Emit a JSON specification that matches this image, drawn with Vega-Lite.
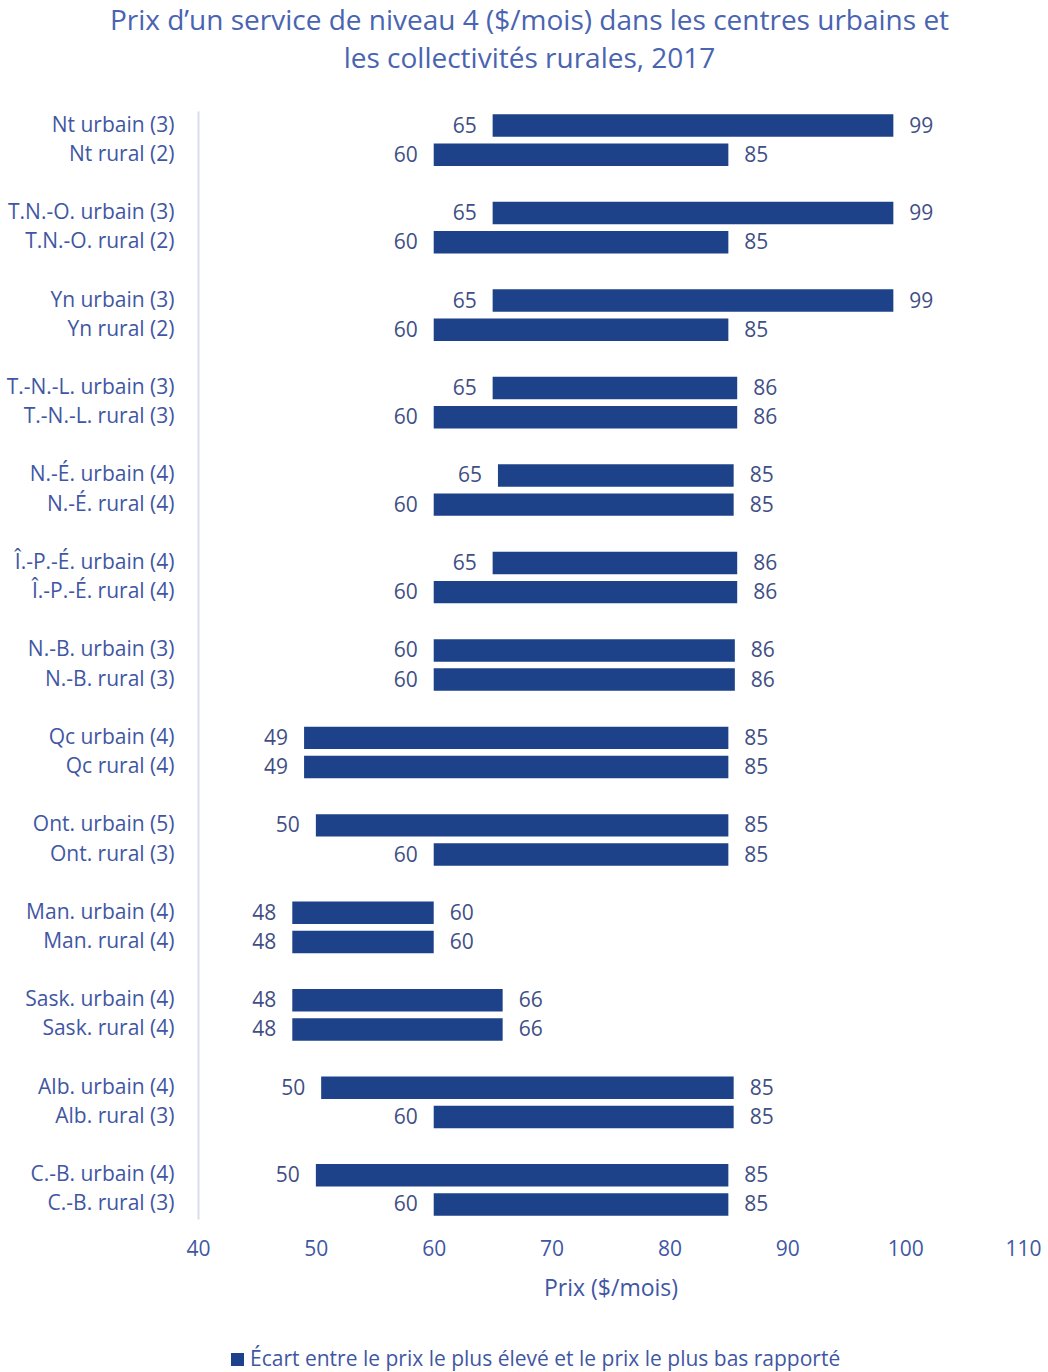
{
  "$schema": "https://vega.github.io/schema/vega-lite/v6.json",
  "autosize": {"type": "none"},
  "padding": {"left": 198, "top": 111, "right": 25, "bottom": 153},
  "width": 825,
  "height": 1108,
  "background": "white",
  "title": {
    "text": ["Prix d’un service de niveau 4 ($/mois) dans les centres urbains et", "les collectivités rurales, 2017"],
    "anchor": "middle",
    "dx": -81,
    "fontSize": 28,
    "font": "Open Sans",
    "fontWeight": "normal",
    "color": "#4964B0",
    "lineHeight": 38,
    "baseline": "alphabetic",
    "offset": 15
  },
  "config": {
    "view": {"stroke": null},
    "font": "Open Sans"
  },
  "data": {
    "values": [
      {"label": "Nt urbain (3)", "low": 65, "high": 99},
      {"label": "Nt rural (2)", "low": 60, "high": 85},
      {"label": "T.N.-O. urbain (3)", "low": 65, "high": 99},
      {"label": "T.N.-O. rural (2)", "low": 60, "high": 85},
      {"label": "Yn urbain (3)", "low": 65, "high": 99},
      {"label": "Yn rural (2)", "low": 60, "high": 85},
      {"label": "T.-N.-L. urbain (3)", "low": 65, "high": 85.75},
      {"label": "T.-N.-L. rural (3)", "low": 60, "high": 85.75},
      {"label": "N.-É. urbain (4)", "low": 65.45, "high": 85.45},
      {"label": "N.-É. rural (4)", "low": 60, "high": 85.45},
      {"label": "Î.-P.-É. urbain (4)", "low": 65, "high": 85.75},
      {"label": "Î.-P.-É. rural (4)", "low": 60, "high": 85.75},
      {"label": "N.-B. urbain (3)", "low": 60, "high": 85.55},
      {"label": "N.-B. rural (3)", "low": 60, "high": 85.55},
      {"label": "Qc urbain (4)", "low": 49, "high": 85},
      {"label": "Qc rural (4)", "low": 49, "high": 85},
      {"label": "Ont. urbain (5)", "low": 50, "high": 85},
      {"label": "Ont. rural (3)", "low": 60, "high": 85},
      {"label": "Man. urbain (4)", "low": 48, "high": 60},
      {"label": "Man. rural (4)", "low": 48, "high": 60},
      {"label": "Sask. urbain (4)", "low": 48, "high": 65.85},
      {"label": "Sask. rural (4)", "low": 48, "high": 65.85},
      {"label": "Alb. urbain (4)", "low": 50.45, "high": 85.45},
      {"label": "Alb. rural (3)", "low": 60, "high": 85.45},
      {"label": "C.-B. urbain (4)", "low": 50, "high": 85},
      {"label": "C.-B. rural (3)", "low": 60, "high": 85}
    ]
  },
  "encoding": {
    "y": {
      "field": "label",
      "type": "nominal",
      "sort": null,
      "scale": {
        "domain": [
          "Nt urbain (3)", "Nt rural (2)", "_gap1",
          "T.N.-O. urbain (3)", "T.N.-O. rural (2)", "_gap2",
          "Yn urbain (3)", "Yn rural (2)", "_gap3",
          "T.-N.-L. urbain (3)", "T.-N.-L. rural (3)", "_gap4",
          "N.-É. urbain (4)", "N.-É. rural (4)", "_gap5",
          "Î.-P.-É. urbain (4)", "Î.-P.-É. rural (4)", "_gap6",
          "N.-B. urbain (3)", "N.-B. rural (3)", "_gap7",
          "Qc urbain (4)", "Qc rural (4)", "_gap8",
          "Ont. urbain (5)", "Ont. rural (3)", "_gap9",
          "Man. urbain (4)", "Man. rural (4)", "_gap10",
          "Sask. urbain (4)", "Sask. rural (4)", "_gap11",
          "Alb. urbain (4)", "Alb. rural (3)", "_gap12",
          "C.-B. urbain (4)", "C.-B. rural (3)"
        ],
        "paddingInner": 0.23,
        "paddingOuter": 0.115
      },
      "axis": {
        "title": null,
        "labelExpr": "indexof(datum.label, '_gap') === 0 ? '' : datum.label",
        "labelFontSize": 21,
        "labelColor": "#3F57A3",
        "labelPadding": 24,
        "ticks": false,
        "tickSize": 0,
        "domain": true,
        "domainColor": "#D9DCEB",
        "domainWidth": 2,
        "grid": false
      }
    }
  },
  "layer": [
    {
      "mark": {"type": "bar"},
      "encoding": {
        "x": {
          "field": "low",
          "type": "quantitative",
          "scale": {"domain": [40, 110], "nice": false, "zero": false},
          "axis": {
            "title": "Prix ($/mois)",
            "titleFontSize": 23,
            "titleFontWeight": "normal",
            "titleColor": "#3F57A3",
            "titlePadding": 18,
            "values": [40, 50, 60, 70, 80, 90, 100, 110],
            "labelFontSize": 21,
            "labelColor": "#3F57A3",
            "labelBaseline": "middle",
            "labelPadding": 30,
            "labelFlush": false,
            "labelOverlap": false,
            "ticks": false,
            "tickSize": 0,
            "domain": false,
            "grid": false
          }
        },
        "x2": {"field": "high"},
        "color": {
          "datum": "Écart entre le prix le plus élevé et le prix le plus bas rapporté",
          "type": "nominal",
          "scale": {"range": ["#1D4289"]},
          "legend": {
            "title": null,
            "orient": "none",
            "legendX": 29,
            "legendY": 1238,
            "symbolType": "square",
            "symbolSize": 169,
            "symbolStrokeWidth": 0,
            "labelFontSize": 21,
            "labelColor": "#3F57A3",
            "labelOffset": 2,
            "labelLimit": 800
          }
        }
      }
    },
    {
      "mark": {"type": "text", "align": "right", "baseline": "middle", "dx": -16, "dy": 1, "fontSize": 21, "color": "#3F4F85"},
      "encoding": {
        "x": {"field": "low", "type": "quantitative"},
        "text": {"field": "low", "type": "quantitative", "format": ".0f"}
      }
    },
    {
      "mark": {"type": "text", "align": "left", "baseline": "middle", "dx": 16, "dy": 1, "fontSize": 21, "color": "#3F4F85"},
      "encoding": {
        "x": {"field": "high", "type": "quantitative"},
        "text": {"field": "high", "type": "quantitative", "format": ".0f"}
      }
    }
  ]
}
